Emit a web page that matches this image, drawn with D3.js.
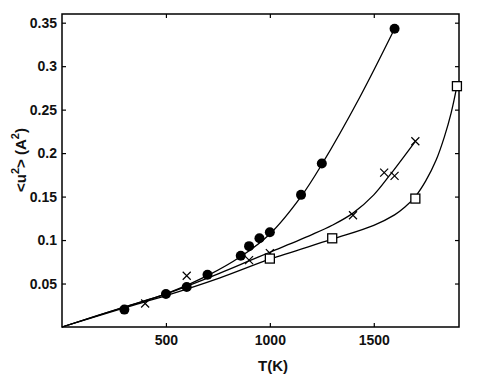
<!DOCTYPE html>
<html>
<head>
<meta charset="utf-8">
<script src="https://cdn.jsdelivr.net/npm/d3@7"></script>
<style>
  body { margin: 0; background: #fff; }
  svg text { font-family: "Liberation Sans", Arial, sans-serif; font-weight: bold; }
</style>
</head>
<body>
<svg width="491" height="380"></svg>
<script>
// measured points
const circleT = [300, 500, 600, 700, 860, 900, 950, 1000, 1150, 1250, 1600]
const circleU = [0.020, 0.038, 0.046, 0.060, 0.082, 0.093, 0.102, 0.109, 0.152, 0.188, 0.343]
const crossT = [400, 600, 900, 1000, 1400, 1550, 1600, 1700]
const crossU = [0.027, 0.059, 0.077, 0.085, 0.1285, 0.1776, 0.1738, 0.2136]
const squareT = [1000, 1300, 1700, 1900]
const squareU = [0.0787, 0.102, 0.1477, 0.277]

// fitted curves
const circleFitT = [0, 300, 500, 700, 860, 1000, 1150, 1250, 1432, 1600]
const circleFitU = [0, 0.023, 0.038, 0.059, 0.081, 0.107, 0.150, 0.187, 0.264, 0.343]
const crossFitT = [0, 300, 500, 760, 900, 1000, 1200, 1300, 1400, 1500, 1575, 1700]
const crossFitU = [0, 0.023, 0.038, 0.062, 0.076, 0.086, 0.106, 0.117, 0.131, 0.152, 0.174, 0.2136]
const squareFitT = [0, 300, 500, 760, 1000, 1300, 1500, 1600, 1650, 1700, 1750, 1800, 1840, 1872, 1900]
const squareFitU = [0, 0.022, 0.036, 0.0565, 0.078, 0.101, 0.117, 0.129, 0.138, 0.150, 0.168, 0.192, 0.219, 0.246, 0.277]

const xTicks = [500, 1000, 1500]
const yTicks = [0.05, 0.1, 0.15, 0.2, 0.25, 0.3, 0.35]

const svg = d3.select("svg")
const margin = { top: 14, right: 32, bottom: 53, left: 62 }
const width = +svg.attr("width") - margin.left - margin.right
const height = +svg.attr("height") - margin.top - margin.bottom
const g = svg.append("g").attr("transform", `translate(${margin.left},${margin.top})`)

const x = d3.scaleLinear().domain([0, 1910]).range([0, width])
const y = d3.scaleLinear().domain([0, 0.36]).range([height, 0])

const zip = (a, b) => a.map((v, i) => [v, b[i]])

// axes with inward ticks on all four sides
g.append("g").attr("transform", `translate(0,${height})`)
  .call(d3.axisBottom(x).tickValues(xTicks).tickSizeInner(-4).tickSizeOuter(0).tickPadding(8).tickFormat(String))
g.append("g")
  .call(d3.axisTop(x).tickValues(xTicks).tickSizeInner(-4).tickSizeOuter(0).tickFormat(""))
g.append("g")
  .call(d3.axisLeft(y).tickValues(yTicks).tickSizeInner(-4).tickSizeOuter(0).tickPadding(5).tickFormat(String))
g.append("g").attr("transform", `translate(${width},0)`)
  .call(d3.axisRight(y).tickValues(yTicks).tickSizeInner(-4).tickSizeOuter(0).tickFormat(""))

g.selectAll(".domain").remove()
g.selectAll(".tick line").attr("stroke", "#000").attr("stroke-width", 1.2)
g.selectAll(".tick text").attr("font-size", 14).attr("fill", "#111")

g.append("rect").attr("width", width).attr("height", height)
  .attr("fill", "none").attr("stroke", "#000").attr("stroke-width", 1.5)

// fitted curves
const line = d3.line().curve(d3.curveCatmullRom.alpha(0.5)).x((d) => x(d[0])).y((d) => y(d[1]))
;[zip(circleFitT, circleFitU), zip(crossFitT, crossFitU), zip(squareFitT, squareFitU)].forEach((pts) => {
  g.append("path").datum(pts).attr("fill", "none").attr("stroke", "#000")
    .attr("stroke-width", 1.3).attr("d", line)
})

// markers
g.selectAll(".dot").data(zip(circleT, circleU)).join("circle")
  .attr("cx", (d) => x(d[0])).attr("cy", (d) => y(d[1])).attr("r", 5).attr("fill", "#000")

const cs = 4
g.selectAll(".cross").data(zip(crossT, crossU)).join("path")
  .attr("d", (d) => {
    const cx = x(d[0]), cy = y(d[1])
    return `M${cx - cs},${cy - cs}L${cx + cs},${cy + cs}M${cx - cs},${cy + cs}L${cx + cs},${cy - cs}`
  })
  .attr("stroke", "#000").attr("stroke-width", 1.2)

const ss = 4.5
g.selectAll(".sq").data(zip(squareT, squareU)).join("rect")
  .attr("x", (d) => x(d[0]) - ss).attr("y", (d) => y(d[1]) - ss)
  .attr("width", ss * 2).attr("height", ss * 2)
  .attr("fill", "#fff").attr("stroke", "#000").attr("stroke-width", 1.3)

// axis labels
svg.append("text").attr("x", 273).attr("y", 371).attr("text-anchor", "middle")
  .attr("font-size", 15).attr("fill", "#111").text("T(K)")

const yl = svg.append("text").attr("transform", "translate(26,160) rotate(-90)")
  .attr("text-anchor", "middle").attr("font-size", 15).attr("fill", "#111")
yl.append("tspan").text("<u")
yl.append("tspan").attr("font-size", 11).attr("dy", -7).text("2")
yl.append("tspan").attr("dy", 7).text("> (A")
yl.append("tspan").attr("font-size", 11).attr("dy", -7).text("2")
yl.append("tspan").attr("dy", 7).text(")")
</script>
</body>
</html>
